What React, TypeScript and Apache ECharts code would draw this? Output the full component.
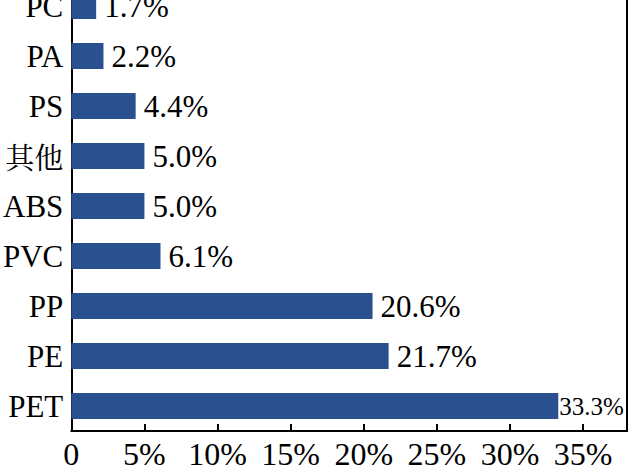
import React, { useEffect, useRef } from "react";
import * as echarts from "echarts";

const categories = ["PET", "PE", "PP", "PVC", "ABS", "其他", "PS", "PA", "PC"];
const values = [33.3, 21.7, 20.6, 6.1, 5.0, 5.0, 4.4, 2.2, 1.7];
const xTicks = [0, 5, 10, 15, 20, 25, 30, 35];

const FONT = "Liberation Serif";

export default function App() {
  const ref = useRef<HTMLDivElement>(null);
  useEffect(() => {
    if (!ref.current) return;
    const chart = echarts.init(ref.current, undefined, { renderer: "svg" });
    chart.setOption({
      animation: false,
      grid: { left: 67, right: 3, top: 0, bottom: 41, containLabel: false },
      xAxis: {
        type: "value",
        min: 0,
        max: 38,
        interval: 5,
        splitLine: { show: false },
        axisLine: { show: true, lineStyle: { color: "#000", width: 2 } },
        axisTick: { show: true, inside: true, length: 7, lineStyle: { color: "#000", width: 2 } },
        axisLabel: {
          color: "#000",
          fontFamily: FONT,
          fontSize: 32,
          margin: 7,
          showMaxLabel: false,
          formatter: (v: number) => (xTicks.includes(v) ? (v === 0 ? "0" : v + "%") : ""),
        },
      },
      yAxis: [
        {
          type: "category",
          data: categories,
          axisLine: { show: true, onZero: false, lineStyle: { color: "#000", width: 2 } },
          axisTick: { show: false },
          axisLabel: {
            color: "#000",
            fontFamily: FONT,
            fontSize: 31,
            margin: 8,
            formatter: (v: string) => (v === "其他" ? "{cjk|" + v + "}" : v),
            rich: { cjk: { fontFamily: "Noto Serif CJK SC, Noto Sans CJK SC", fontSize: 29, color: "#000" } },
          },
        },
        {
          type: "category",
          data: categories,
          position: "right",
          axisLine: { show: true, onZero: false, lineStyle: { color: "#000", width: 2 } },
          axisTick: { show: false },
          axisLabel: { show: false },
        },
      ],
      series: [
        {
          type: "bar",
          yAxisIndex: 0,
          barWidth: 26,
          itemStyle: { color: "#2b5090" },
          data: values.map((v, i) =>
            i === 0
              ? { value: v, label: { distance: 1, fontSize: 25 } }
              : { value: v }
          ),
          label: {
            show: true,
            position: "right",
            distance: 8,
            color: "#000",
            fontFamily: FONT,
            fontSize: 31,
            formatter: (p: any) => Number(p.value).toFixed(1) + "%",
          },
        },
      ],
    });
    return () => chart.dispose();
  }, []);
  return (
    <div
      ref={ref}
      style={{ position: "fixed", left: 0, top: -19, width: 630, height: 491, background: "#fff" }}
    />
  );
}
